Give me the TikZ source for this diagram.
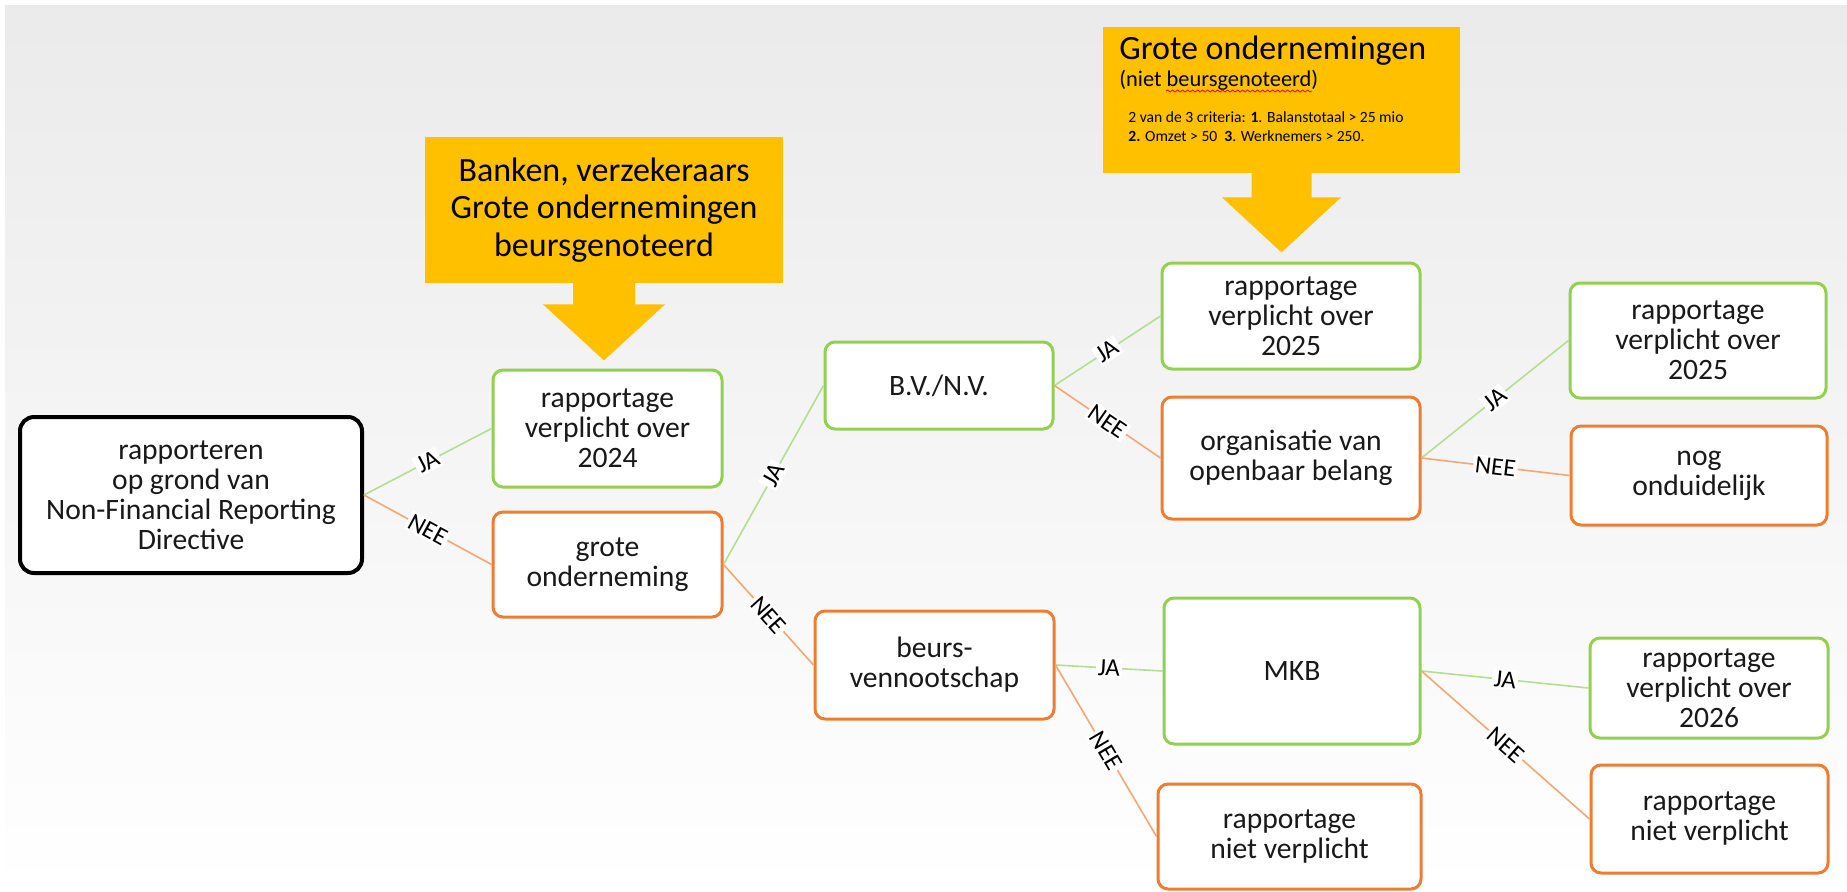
\documentclass[tikz,border=0pt]{standalone}
\usepackage{fontspec}
\setmainfont{Carlito}
\usetikzlibrary{decorations.pathmorphing}

\definecolor{geel}{HTML}{FFC000}
\definecolor{groen}{HTML}{92D050}
\definecolor{oranje}{HTML}{ED7D31}
\definecolor{groenlijn}{HTML}{B4DE90}
\definecolor{oranjelijn}{HTML}{F4A774}

\begin{document}
\begin{tikzpicture}[x=0.5pt, y=-0.5pt,
    blok/.style={draw, fill=white, rounded corners=5pt, line width=1.5pt, align=center, inner sep=0pt, text=black!90, font=\fontsize{14.8}{15}\selectfont},
    ja/.style={blok, draw=groen},
    nee/.style={blok, draw=oranje},
    geelblok/.style={fill=geel, inner sep=0pt, align=center, font=\fontsize{17}{18.75}\selectfont},
    jalijn/.style={draw=groenlijn, line width=0.8pt},
    neelijn/.style={draw=oranjelijn, line width=0.8pt},
    lbl/.style={midway, sloped, fill=white, inner sep=1pt, font=\fontsize{12.5}{12.5}\selectfont}]

    \useasboundingbox (0,0) rectangle (1847,891);
    \shade[top color=black!8, middle color=black!2, bottom color=white] (5,5) rectangle (1847,891);

    % gele blokken met pijl
    \node[geelblok, minimum width=179pt, minimum height=73pt] (banken) at (604,210) {Banken, verzekeraars\\Grote ondernemingen\\beursgenoteerd};
    \fill[geel] (banken.south) ++(-31,-1) -- ++(62,0) -- ++(0,22) -- ++(30,0) -- ++(-61,56) -- ++(-61,-56) -- ++(30,0) -- cycle;

    \node[geelblok, minimum width=178.5pt, minimum height=73pt] (groot) at (1281.5,100) {};
    \fill[geel] (groot.south) ++(-30,-1) -- ++(60,0) -- ++(0,25) -- ++(29.5,0) -- ++(-59.5,55) -- ++(-59.5,-55) -- ++(29.5,0) -- cycle;
    \node[anchor=base west, inner sep=0pt, font=\fontsize{17}{17}\selectfont] (grtitel) at (1119,59) {Grote ondernemingen};
    \node[anchor=base west, inner sep=0pt, font=\fontsize{11.2}{11.2}\selectfont] (grsub) at (1119,86) {(niet beursgenoteerd)};
    \draw[red, line width=0.4pt, decorate, decoration={snake, amplitude=0.5pt, segment length=2.5pt}] (1166,91) -- (1312,91);
    \node[anchor=base west, inner sep=0pt, font=\fontsize{7.8}{7.8}\selectfont] (crit1) at (1128,122) {2 van de 3 criteria: \textbf{1}. Balanstotaal > 25 mio};
    \node[anchor=base west, inner sep=0pt, font=\fontsize{7.8}{7.8}\selectfont] (crit2) at (1128,141) {\textbf{2.} Omzet > 50\ \ \textbf{3}. Werknemers > 250.};

    % beslisboom
    \node[blok, draw=black, line width=2pt, rounded corners=7pt, minimum width=171pt, minimum height=78pt] (nfrd) at (191,495) {rapporteren\\op grond van\\Non-Financial Reporting\\Directive};

    \node[ja, minimum width=114.5pt, minimum height=58.5pt] (rap24) at (607.5,428.5) {rapportage\\verplicht over\\2024};
    \node[nee, minimum width=114.5pt, minimum height=52.5pt] (grote) at (607.5,564.5) {grote\\onderneming};

    \node[ja, minimum width=114pt, minimum height=43.5pt] (bvnv) at (939,385.5) {B.V./N.V.};
    \node[nee, minimum width=119.5pt, minimum height=54pt] (beurs) at (934.5,665) {beurs-\\vennootschap};

    \node[ja, minimum width=129pt, minimum height=53pt] (rap25a) at (1291,316) {rapportage\\verplicht over\\2025};
    \node[nee, minimum width=129pt, minimum height=61pt] (oob) at (1291,458) {organisatie van\\openbaar belang};
    \node[ja, minimum width=128pt, minimum height=73pt] (mkb) at (1292,671) {MKB};
    \node[nee, minimum width=131.5pt, minimum height=52.5pt] (niet1) at (1289.5,836.5) {rapportage\\niet verplicht};

    \node[ja, minimum width=128pt, minimum height=57.5pt] (rap25b) at (1698,340.5) {rapportage\\verplicht over\\2025};
    \node[nee, minimum width=128pt, minimum height=49.5pt] (nog) at (1699,475.5) {nog\\onduidelijk};
    \node[ja, minimum width=119pt, minimum height=50pt] (rap26) at (1709,688) {rapportage\\verplicht over\\2026};
    \node[nee, minimum width=118.5pt, minimum height=54pt] (niet2) at (1709.5,819) {rapportage\\niet verplicht};

    \draw[jalijn] (nfrd.east) -- node[lbl] {JA} (rap24.west);
    \draw[neelijn] (nfrd.east) -- node[lbl] {NEE} (grote.west);
    \draw[jalijn] (grote.east) -- node[lbl] {JA} (bvnv.west);
    \draw[neelijn] (grote.east) -- node[lbl] {NEE} (beurs.west);
    \draw[jalijn] (bvnv.east) -- node[lbl] {JA} (rap25a.west);
    \draw[neelijn] (bvnv.east) -- node[lbl] {NEE} (oob.west);
    \draw[jalijn] (oob.east) -- node[lbl] {JA} (rap25b.west);
    \draw[neelijn] (oob.east) -- node[lbl] {NEE} (nog.west);
    \draw[jalijn] (beurs.east) -- node[lbl] {JA} (mkb.west);
    \draw[neelijn] (beurs.east) -- node[lbl] {NEE} (niet1.west);
    \draw[jalijn] (mkb.east) -- node[lbl] {JA} (rap26.west);
    \draw[neelijn] (mkb.east) -- node[lbl] {NEE} (niet2.west);

\end{tikzpicture}
\end{document}
